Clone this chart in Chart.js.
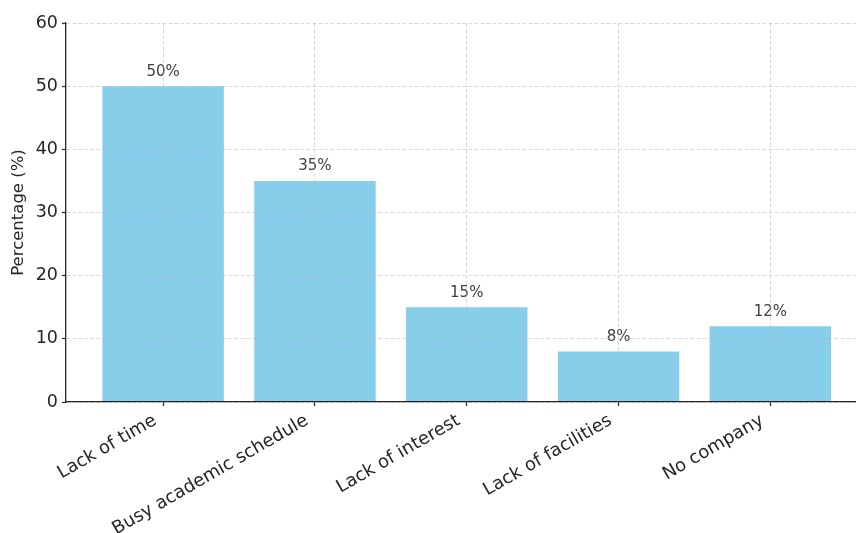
<!DOCTYPE html>
<html>
<head>
<meta charset="utf-8">
<script src="https://cdn.jsdelivr.net/npm/chart.js@4/dist/chart.umd.min.js"></script>
<style>
  html, body { margin: 0; padding: 0; background: #fff; overflow: hidden; }
  #wrap { width: 880px; height: 533px; position: relative; }
</style>
</head>
<body>
<div id="wrap"><canvas id="c" width="880" height="533"></canvas></div>
<script>
const categories = ["Lack of time", "Busy academic schedule", "Lack of interest", "Lack of facilities", "No company"];
const percentages = [50, 35, 15, 8, 12];
const yTicks = [0, 10, 20, 30, 40, 50, 60];

const FONT = "'DejaVu Sans', sans-serif";
const gridColor = 'rgba(176,176,176,0.6)';

const valueLabels = {
  id: 'valueLabels',
  afterDatasetsDraw(chart) {
    const ctx = chart.ctx;
    const meta = chart.getDatasetMeta(0);
    ctx.save();
    ctx.font = "15px " + FONT;
    ctx.fillStyle = '#404040';
    ctx.textAlign = 'center';
    ctx.textBaseline = 'alphabetic';
    meta.data.forEach((bar, i) => {
      ctx.fillText(percentages[i] + '%', bar.x, bar.y - 10.5);
    });
    ctx.restore();
  }
};

const gridOpts = {
  z: 1,
  offset: false,
  color: gridColor,
  lineWidth: 0.8,
  drawTicks: true,
  tickLength: 4,
  tickColor: '#262626',
  tickWidth: 1.2,
  tickBorderDash: []
};

new Chart(document.getElementById('c'), {
  type: 'bar',
  data: {
    datasets: [{
      data: categories.map((c, i) => ({ x: i, y: percentages[i] })),
      backgroundColor: '#87CEEB',
      borderWidth: 0,
      barPercentage: 0.8,
      categoryPercentage: 1.0
    }]
  },
  plugins: [valueLabels],
  options: {
    responsive: false,
    animation: false,
    devicePixelRatio: 1,
    layout: { padding: { top: 23, right: 12.5, left: 0, bottom: 0 } },
    plugins: { legend: { display: false }, tooltip: { enabled: false } },
    scales: {
      x: {
        type: 'linear',
        offset: false,
        min: -0.64,
        max: 4.64,
        afterBuildTicks: s => { s.ticks = categories.map((c, i) => ({ value: i })); },
        afterFit: s => { s.height = 131; },
        ticks: {
          callback: v => categories[v] !== undefined ? categories[v] : '',
          minRotation: 30,
          maxRotation: 30,
          autoSkip: false,
          padding: 4,
          labelOffset: -8,
          color: '#262626',
          font: { family: FONT, size: 18 }
        },
        grid: gridOpts,
        border: { display: true, color: '#262626', width: 1.3, z: 2, dash: [4, 2] }
      },
      y: {
        min: 0,
        max: 60,
        afterBuildTicks: s => { s.ticks = yTicks.map(v => ({ value: v })); },
        afterFit: s => { s.width = 66; },
        ticks: {
          padding: 4,
          color: '#262626',
          font: { family: FONT, size: 17.5 }
        },
        title: {
          display: true,
          text: 'Percentage (%)',
          color: '#262626',
          font: { family: FONT, size: 16.5 },
          padding: { top: 9, bottom: 0 }
        },
        grid: gridOpts,
        border: { display: true, color: '#262626', width: 1.3, z: 2, dash: [4, 2] }
      }
    }
  }
});
</script>
</body>
</html>
